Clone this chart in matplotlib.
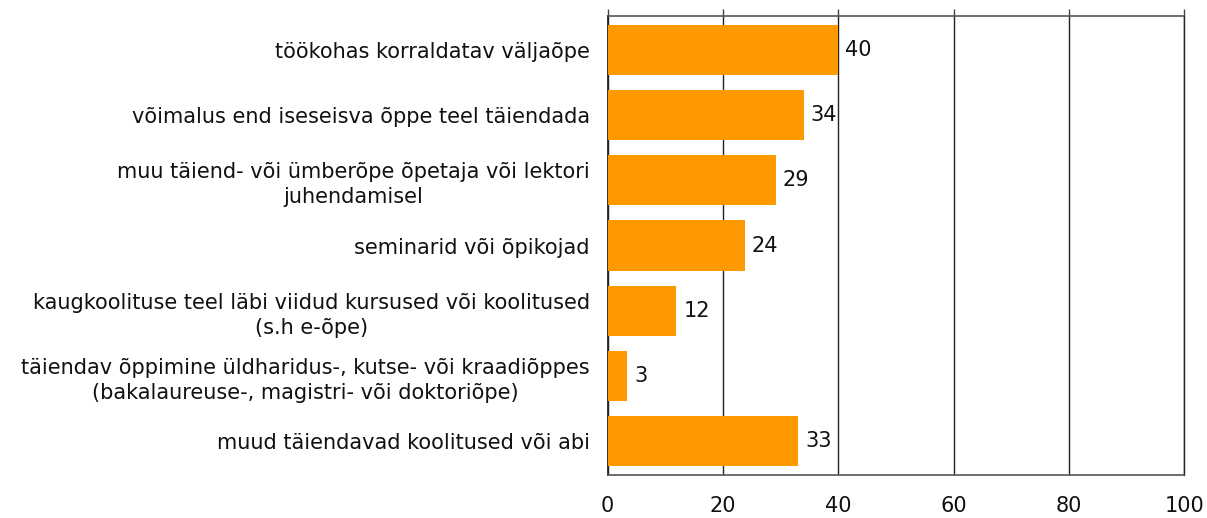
import matplotlib
matplotlib.use("Agg")
import matplotlib.pyplot as plt

categories = [
    "töökohas korraldatav väljaõpe",
    "võimalus end iseseisva õppe teel täiendada",
    "muu täiend- või ümberõpe õpetaja või lektori\njuhendamisel",
    "seminarid või õpikojad",
    "kaugkoolituse teel läbi viidud kursused või koolitused\n(s.h e-õpe)",
    "täiendav õppimine üldharidus-, kutse- või kraadiõppes\n(bakalaureuse-, magistri- või doktoriõpe)",
    "muud täiendavad koolitused või abi",
]
values = [40.0, 34.0, 29.2, 23.8, 11.9, 3.4, 33.1]
labels = ["40", "34", "29", "24", "12", "3", "33"]
xticks = [0, 20, 40, 60, 80, 100]

plt.rcParams['font.family'] = ['DejaVu Sans']
fig = plt.figure(figsize=(12.07, 5.18), dpi=100)
ax = fig.add_axes([0.5035, 0.083, 0.4775, 0.886])

y = list(range(len(categories)))
ax.barh(y, values, height=0.77, color="#FF9900", zorder=3)
for yi, v, lab in zip(y, values, labels):
    ax.text(v + 1.2, yi, lab, va="center", ha="left", fontsize=15, color="#111111")

ax.set_xlim(0, 100)
ax.set_ylim(len(categories) - 0.48, -0.52)
ax.set_yticks(y)
ax.set_yticklabels(categories, fontsize=15, multialignment="center", color="#111111",
                   linespacing=1.3)
ax.tick_params(axis="y", length=0, pad=13)
ax.set_xticks(xticks)
ax.set_xticklabels([str(t) for t in xticks], fontsize=15, color="#111111")
ax.tick_params(axis="x", which="both", bottom=False, top=True, labelbottom=True,
               labeltop=False, direction="out", length=5, width=1, color="#444444", pad=10)
ax.grid(axis="x", color="#222222", linewidth=1, zorder=1)
for s in ["top", "bottom"]:
    ax.spines[s].set_color("#555555")
    ax.spines[s].set_linewidth(1.2)
ax.spines["left"].set_color("#222222")
ax.spines["left"].set_linewidth(1.3)
ax.spines["right"].set_color("#222222")
ax.spines["right"].set_linewidth(1.0)

fig.savefig("out.png", dpi=100)
